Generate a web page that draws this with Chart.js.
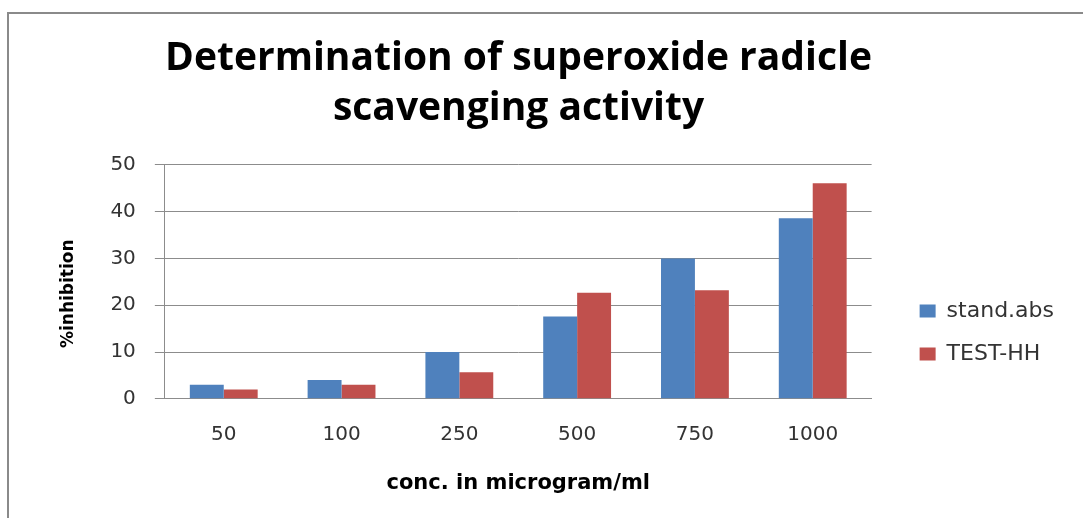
<!DOCTYPE html>
<html>
<head>
<meta charset="utf-8">
<script src="https://cdn.jsdelivr.net/npm/chart.js@4.4.1/dist/chart.umd.min.js"></script>
<style>
  html, body { margin: 0; padding: 0; background: #ffffff; }
  #wrap { position: relative; width: 1083px; height: 518px; overflow: hidden; }
  #frame { position: absolute; left: 7px; top: 12px; width: 1100px; height: 520px;
           border-left: 2px solid #8a8a8a; border-top: 2px solid #8a8a8a; }
  #c { position: absolute; left: 0; top: 0; }
</style>
</head>
<body>
<div id="wrap">
  <div id="frame"></div>
  <canvas id="c" width="1083" height="518"></canvas>
</div>
<script>
const categories = ["50", "100", "250", "500", "750", "1000"];
const standAbs = [3.0, 4.0, 10.0, 17.6, 30.0, 38.6];
const testHH = [2.0, 3.0, 5.7, 22.7, 23.2, 46.1];
const seriesNames = ["stand.abs", "TEST-HH"];
const yTicks = [0, 10, 20, 30, 40, 50];
const titleLines = ["Determination of superoxide radicle", "scavenging activity"];
const xTitle = "conc. in microgram/ml";
const yTitle = "%inhibition    ";

const legendShift = {
  id: 'legendShift',
  afterLayout(chart) {
    const l = chart.legend;
    if (!l) return;
    const h = l.bottom - l.top;
    l.left += 27; l.right += 27;
    l.top = chart.chartArea.top + 114;
    l.bottom = l.top + h;
  }
};

new Chart(document.getElementById('c'), {
  type: 'bar',
  data: {
    labels: categories,
    datasets: [
      { label: seriesNames[0], data: standAbs, backgroundColor: '#4F81BD', borderWidth: 0 },
      { label: seriesNames[1], data: testHH, backgroundColor: '#C0504D', borderWidth: 0 }
    ]
  },
  options: {
    responsive: false,
    animation: false,
    devicePixelRatio: 1,
    layout: { padding: { top: 0, left: 0, right: 46, bottom: 0 } },
    datasets: { bar: { categoryPercentage: 0.576, barPercentage: 1.0 } },
    plugins: {
      title: {
        display: true,
        text: titleLines,
        font: { family: 'Open Sans', size: 39, weight: 'bold', lineHeight: 1.282 },
        color: '#000000',
        padding: { top: 34, bottom: 31 }
      },
      legend: {
        display: true,
        position: 'right',
        align: 'start',
        labels: {
          font: { family: 'DejaVu Sans', size: 22 },
          color: '#333333',
          boxWidth: 16,
          boxHeight: 13,
          padding: 21
        }
      },
      tooltip: { enabled: false }
    },
    scales: {
      x: {
        grid: { display: false, drawTicks: false, tickLength: 0 },
        border: { display: true, color: '#8c8c8c', width: 1 },
        ticks: { font: { family: 'DejaVu Sans', size: 20 }, color: '#333333', padding: 24 },
        title: {
          display: true, text: xTitle,
          font: { family: 'DejaVu Sans', size: 21, weight: 'bold' },
          color: '#000000',
          padding: { top: 0, bottom: 22 }
        }
      },
      y: {
        min: 0, max: 50,
        afterBuildTicks(scale) { scale.ticks = yTicks.map(v => ({ value: v })); },
        grid: { color: '#8c8c8c', lineWidth: 1, drawTicks: true, tickLength: 10 },
        border: { display: true, color: '#8c8c8c', width: 1 },
        ticks: { font: { family: 'DejaVu Sans', size: 20 }, color: '#333333', padding: 19 },
        title: {
          display: true, text: yTitle,
          font: { family: 'DejaVu Sans', size: 17, weight: 'bold' },
          color: '#000000',
          padding: { top: 58, bottom: 13 }
        }
      }
    }
  },
  plugins: [legendShift]
});
</script>
</body>
</html>
